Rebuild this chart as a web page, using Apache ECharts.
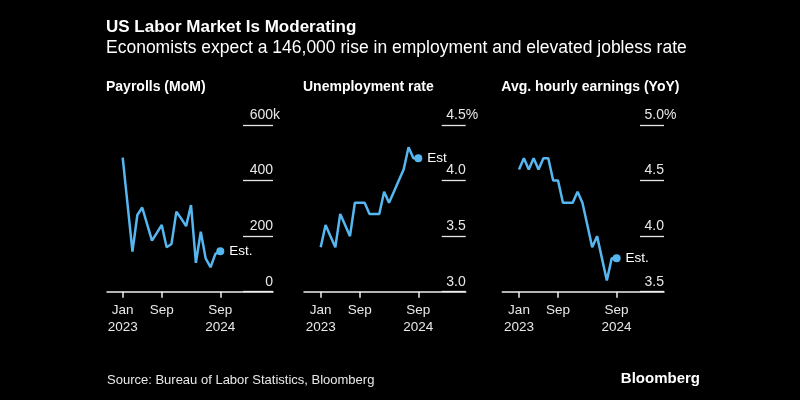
<!DOCTYPE html>
<html>
<head>
<meta charset="utf-8">
<script src="https://cdn.jsdelivr.net/npm/echarts@6/dist/echarts.min.js"></script>
<style>
html,body{margin:0;padding:0;background:#000;}
#c{width:800px;height:400px;}
</style>
</head>
<body>
<div id="c"></div>
<script>
// ---- data ----
var months = ['Jan 2023','Feb 2023','Mar 2023','Apr 2023','May 2023','Jun 2023','Jul 2023','Aug 2023','Sep 2023','Oct 2023','Nov 2023','Dec 2023',
              'Jan 2024','Feb 2024','Mar 2024','Apr 2024','May 2024','Jun 2024','Jul 2024','Aug 2024','Sep 2024'];
var payrolls = [483, 313, 144, 276, 303, 243, 184, 212, 240, 160, 172, 288, 263, 236, 312, 104, 216, 120, 88, 136, 146];
var unemployment = [3.4, 3.6, 3.5, 3.4, 3.7, 3.6, 3.5, 3.8, 3.8, 3.8, 3.7, 3.7, 3.7, 3.9, 3.8, 3.9, 4.0, 4.1, 4.3, 4.2, 4.2];
var earnings = [4.6, 4.7, 4.6, 4.7, 4.6, 4.7, 4.7, 4.5, 4.5, 4.3, 4.3, 4.3, 4.4, 4.3, 4.1, 3.9, 4.0, 3.8, 3.6, 3.8, 3.8];
var xTickMonths = ['Jan 2023', 'Sep 2023', 'Sep 2024'];
var xTickLabels = ['Jan\n2023', 'Sep', 'Sep\n2024'];
var payrollTicks = [0, 200, 400, 600];
var unempTicks = [3.0, 3.5, 4.0, 4.5];
var earnTicks = [3.5, 4.0, 4.5, 5.0];
var panelTitles = ['Payrolls (MoM)', 'Unemployment rate', 'Avg. hourly earnings (YoY)'];
var estLabels = ['Est.', 'Est', 'Est.'];

// ---- layout ----
var FONT = 'Liberation Sans, Arial, sans-serif';
var LINE = '#56b6f0';
var TXT = '#e8e8e8';
var TOP = 125, BOTTOM = 291.7, SP = 4.88;
var YFS = 14;
var panels = [
  {left:107, right:273, janX:122.7, gl:243, vals:payrolls, ticks:payrollTicks, suffix:'k', dec:0},
  {left:304, right:465.7, janX:320.7, gl:441.7, vals:unemployment, ticks:unempTicks, suffix:'%', dec:1},
  {left:502.3, right:664, janX:519, gl:640, vals:earnings, ticks:earnTicks, suffix:'%', dec:1}
];

var cv = document.createElement('canvas').getContext('2d');
cv.font = YFS + 'px ' + FONT;

var tickIdx = xTickMonths.map(function(m){ return months.indexOf(m); });

var grids = [], xAxes = [], yAxes = [], series = [], graphics = [];

panels.forEach(function(p, i){
  var gMain = grids.length;
  grids.push({left:p.left, width:p.right - p.left, top:TOP, height:BOTTOM - TOP, containLabel:false});
  grids.push({left:p.gl, width:p.right - p.gl, top:TOP, height:BOTTOM - TOP, containLabel:false});
  var yMin = p.ticks[0], yMax = p.ticks[p.ticks.length-1], itv = p.ticks[1]-p.ticks[0];
  xAxes.push({
    gridIndex:gMain, type:'value',
    min:(p.left - p.janX)/SP, max:(p.right - p.janX)/SP,
    splitLine:{show:false},
    axisLine:{show:true, lineStyle:{color:'#f0f0f0', width:1.5}},
    axisTick:{show:true, customValues:tickIdx, length:6, lineStyle:{color:'#f0f0f0', width:1.5}},
    axisLabel:{show:true, customValues:tickIdx, margin:10, color:TXT, fontSize:13.5, lineHeight:17, fontFamily:FONT,
      formatter:function(v){ var k = tickIdx.indexOf(Math.round(v)); return k >= 0 ? xTickLabels[k] : ''; }}
  });
  xAxes.push({gridIndex:gMain+1, type:'value', min:0, max:1, show:false});
  yAxes.push({gridIndex:gMain, type:'value', min:yMin, max:yMax, interval:itv, show:false});
  var sw = cv.measureText(p.suffix).width;
  yAxes.push({
    gridIndex:gMain+1, type:'value', min:yMin, max:yMax, interval:itv, position:'right',
    axisLine:{show:false}, axisTick:{show:false},
    splitLine:{show:true, lineStyle:{color:'#e6e6e6', width:1.3}},
    axisLabel:{show:true, inside:false, align:'right', verticalAlign:'bottom', margin:sw, padding:[0,0,3,0],
      formatter:function(v){
        var s = v.toFixed(p.dec);
        var top = Math.abs(v - yMax) < 1e-9;
        return '{n|' + s + '}{' + (top ? 's' : 'h') + '|' + p.suffix + '}';
      },
      rich:{
        n:{color:TXT, fontSize:YFS, fontFamily:FONT},
        s:{color:TXT, fontSize:YFS, fontFamily:FONT},
        h:{color:'rgba(0,0,0,0)', fontSize:YFS, fontFamily:FONT}
      }}
  });
  var last = p.vals.length - 1;
  var data = p.vals.map(function(v, k){
    var d = {value:[k, v]};
    if (k === last) {
      d.symbol = 'circle'; d.symbolSize = 8;
      d.label = {show:true, position:'right', distance:5, formatter:estLabels[i], color:'#ffffff', fontSize:13.5, fontFamily:FONT};
    }
    return d;
  });
  series.push({
    type:'line', xAxisIndex:xAxes.length-2, yAxisIndex:yAxes.length-2,
    data:data, symbol:'none', showSymbol:true, showAllSymbol:true,
    lineStyle:{color:LINE, width:2.5}, itemStyle:{color:LINE},
    animation:false, silent:true, z:5
  });
  graphics.push({type:'text', style:{text:panelTitles[i], x:p.left - 1, y:87.5, fill:'#ffffff', fontSize:14, fontWeight:'bold', fontFamily:FONT, verticalAlign:'middle', align:'left'}});
});

graphics.push({type:'text', style:{text:'US Labor Market Is Moderating', x:106, y:27.5, fill:'#ffffff', fontSize:17, fontWeight:'bold', fontFamily:FONT, verticalAlign:'middle', align:'left'}});
graphics.push({type:'text', style:{text:'Economists expect a 146,000 rise in employment and elevated jobless rate', x:106, y:48.5, fill:'#ffffff', fontSize:17.5, fontFamily:FONT, verticalAlign:'middle', align:'left'}});
graphics.push({type:'text', style:{text:'Source: Bureau of Labor Statistics, Bloomberg', x:107, y:380.5, fill:'#e8e8e8', fontSize:13, fontFamily:FONT, verticalAlign:'middle', align:'left'}});
graphics.push({type:'text', style:{text:'Bloomberg', x:700, y:378.5, fill:'#ffffff', fontSize:15, fontWeight:'bold', fontFamily:FONT, verticalAlign:'middle', align:'right'}});

var chart = echarts.init(document.getElementById('c'));
chart.setOption({
  backgroundColor:'#000000',
  animation:false,
  grid:grids, xAxis:xAxes, yAxis:yAxes, series:series, graphic:graphics
});
</script>
</body>
</html>
